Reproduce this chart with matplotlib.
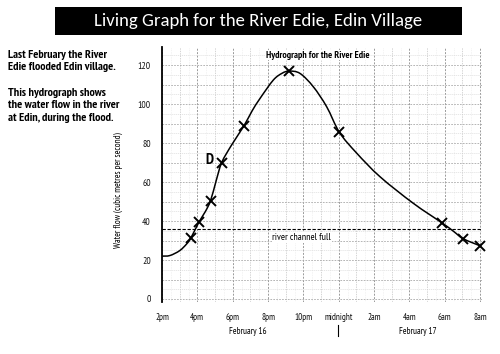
import matplotlib
matplotlib.use("Agg")
import matplotlib.pyplot as plt
from matplotlib import font_manager as fm
from matplotlib.patches import Rectangle, PathPatch
from matplotlib.path import Path
from matplotlib.lines import Line2D

# ---- data (hours after 2pm on Feb 16, water flow m3/s) ----
cross_hours = [1.64, 2.1, 2.75, 3.38, 4.63, 7.2, 10.04, 15.87, 17.05, 18.0]
cross_flow = [31.4, 39.6, 50.5, 70.0, 88.7, 116.9, 85.5, 38.9, 30.9, 27.3]

curve_hours = [0.0, 0.45, 1.0, 1.4, 1.64, 2.1, 2.45, 2.75, 3.06, 3.38, 3.94,
               4.63, 5.1, 5.55, 6.3, 6.8, 7.2, 7.81, 8.56, 9.32, 10.04, 11.0,
               12.34, 14.22, 15.87, 16.5, 17.05, 18.0]
curve_flow = [22.0, 22.3, 24.8, 28.3, 31.4, 39.6, 44.8, 50.5, 60.5, 70.0, 79.0,
              88.7, 96.5, 102.9, 112.3, 115.8, 116.9, 115.7, 108.9, 98.6, 85.5, 75.0,
              62.7, 49.1, 38.9, 34.7, 30.9, 27.3]

channel_full = 35.7
tick_hours = [0, 2, 4, 6, 8, 10, 12, 14, 16, 18]
tick_labels = ["2pm", "4pm", "6pm", "8pm", "10pm", "midnight", "2am", "4am", "6am", "8am"]
y_ticks = [0, 20, 40, 60, 80, 100, 120]

# ---- font selection ----
_WMAP = {"ultralight": 200, "light": 300, "normal": 400, "regular": 400, "book": 400,
         "medium": 500, "roman": 400, "semibold": 600, "demibold": 600, "demi": 600,
         "bold": 700, "heavy": 800, "extra bold": 800, "black": 900}


def _wt(f):
    w = f.weight
    if isinstance(w, str):
        return _WMAP.get(w.lower(), 400)
    return int(w)


def pick(families):
    for fam in families:
        ents = [f for f in fm.fontManager.ttflist
                if f.name == fam and str(f.style).lower() == "normal" and "[" not in f.fname]
        if not ents:
            continue
        reg = min(ents, key=lambda f: abs(_wt(f) - 400))
        bold = min(ents, key=lambda f: abs(_wt(f) - 700))
        if _wt(bold) >= 600:
            return reg.fname, bold.fname
    return None, None


REG, BOLD = pick(["PT Sans Narrow", "Fira Sans Condensed", "Open Sans Condensed",
                  "Roboto Condensed", "Asap Condensed", "Encode Sans Condensed",
                  "IBM Plex Sans Condensed", "Archivo Narrow", "Barlow Semi Condensed",
                  "Saira SemiCondensed"])
TREG, _ = pick(["Carlito", "Open Sans", "Noto Sans"])


def fp(kind, size=10):
    if kind == "bold":
        return fm.FontProperties(fname=BOLD, size=size) if BOLD else \
            fm.FontProperties(family="Roboto", weight="bold", size=size)
    if kind == "title":
        return fm.FontProperties(fname=TREG, size=size) if TREG else \
            fm.FontProperties(family="Open Sans", size=size)
    return fm.FontProperties(fname=REG, size=size) if REG else \
        fm.FontProperties(family="Roboto", size=size)


W, H = 500, 354
fig = plt.figure(figsize=(W / 100, H / 100), dpi=100)
fig.patch.set_facecolor("white")
renderer = fig.canvas.get_renderer()


def fit_size(text, kind, target_px):
    t = fig.text(0, 0, text, fontproperties=fp(kind, 10))
    w = t.get_window_extent(renderer).width
    t.remove()
    return 10 * target_px / w


def fx(px):
    return px / W


def fy(py):
    return 1 - py / H


# Title bar
fig.patches.append(Rectangle((fx(55), fy(35)), 407 / W, 28 / H, transform=fig.transFigure,
                             facecolor="black", edgecolor="none"))
title = "Living Graph for the River Edie, Edin Village"
fig.text(fx(258.5), fy(21), title, color="white", ha="center", va="center",
         fontproperties=fp("title", fit_size(title, "title", 329)))

# Left text
left_lines = [("Last February the River", 55), ("Edie flooded Edin village.", 67),
              ("This hydrograph shows", 93), ("the water flow in the river", 105),
              ("at Edin, during the flood.", 117.5)]
left_size = fit_size("the water flow in the river", "bold", 112)
for t, y in left_lines:
    fig.text(fx(8), fy(y), t, ha="left", va="center", fontproperties=fp("bold", left_size))

# Axes
ax = fig.add_axes([fx(162), fy(302), 320 / W, (302 - 47.3) / H])
ax.set_xlim(0, 18.11)
ax.set_ylim(-1.54, 129.1)

for s in ["top", "right", "bottom"]:
    ax.spines[s].set_visible(False)
ax.spines["left"].set_linewidth(1.3)
ax.spines["left"].set_color("black")

# graph paper grid
for h in range(0, 19):
    ax.axvline(h, color="#9a9a9a" if h % 2 == 0 else "#c4c4c4", lw=0.7 if h % 2 == 0 else 0.5,
               ls=(0, (2, 1.5)), zorder=0)
for h in [x + 0.5 for x in range(0, 18)]:
    ax.axvline(h, color="#dddddd", lw=0.4, ls=(0, (1, 2)), zorder=0)
for v in range(0, 130, 5):
    ax.axhline(v, color="#a8a8a8" if v % 10 == 0 else "#d2d2d2", lw=0.6 if v % 10 == 0 else 0.4,
               ls=(0, (2, 1.5)), zorder=0)

xtick_size = fit_size("midnight", "reg", 28.5)
ytick_size = fit_size("120", "reg", 13)
ax.set_xticks(tick_hours)
ax.set_xticklabels(tick_labels)
ax.set_yticks(y_ticks)
ax.tick_params(axis="x", length=0, pad=8)
ax.tick_params(axis="y", length=0, pad=8)
for lab in ax.get_xticklabels():
    lab.set_fontproperties(fp("reg", xtick_size))
    lab.set_color("#111111")
for lab in ax.get_yticklabels():
    lab.set_fontproperties(fp("reg", ytick_size))
    lab.set_color("#111111")

# channel full line
ax.axhline(channel_full, color="black", lw=0.8, ls=(0, (3, 1.5)), zorder=2)
ax.text(7.9, channel_full - 4.2, "river channel full", ha="center", va="center",
        zorder=3, bbox=dict(facecolor="white", edgecolor="none", pad=0.5),
        fontproperties=fp("reg", fit_size("river channel full", "reg", 58)))

# smooth curve through the read points (Catmull-Rom -> cubic Bezier)
pts = list(zip(curve_hours, curve_flow))
verts = [pts[0]]
codes = [Path.MOVETO]
n = len(pts)
for i in range(n - 1):
    p0 = pts[i - 1] if i > 0 else pts[i]
    p1 = pts[i]
    p2 = pts[i + 1]
    p3 = pts[i + 2] if i + 2 < n else pts[i + 1]
    c1 = (p1[0] + (p2[0] - p0[0]) / 6, p1[1] + (p2[1] - p0[1]) / 6)
    c2 = (p2[0] - (p3[0] - p1[0]) / 6, p2[1] - (p3[1] - p1[1]) / 6)
    verts += [c1, c2, p2]
    codes += [Path.CURVE4] * 3
ax.add_patch(PathPatch(Path(verts, codes), facecolor="none", edgecolor="black", lw=1.1,
                       zorder=4, clip_on=False))
ax.plot(cross_hours, cross_flow, ls="none", marker="x", ms=6.5, mew=1.4, color="black",
        zorder=5, clip_on=False)

ax.text(2.68, 71.3, "D", ha="center", va="center", fontproperties=fp("bold", 11))
hyd = "Hydrograph for the River Edie"
ax.text(8.8, 125, hyd, ha="center", va="center",
        bbox=dict(facecolor="white", edgecolor="none", pad=0.3),
        fontproperties=fp("bold", fit_size(hyd, "bold", 104)))

# y label
ylab = "Water flow (cubic metres per second)"
fig.text(fx(118), fy(190), ylab, rotation=90, ha="center", va="center",
         fontproperties=fp("reg", fit_size(ylab, "reg", 116)))

# date labels
date_size = fit_size("February 16", "reg", 38)
fig.text(fx(247.7), fy(331), "February 16", ha="center", va="center",
         fontproperties=fp("reg", date_size))
fig.text(fx(418.3), fy(331), "February 17", ha="center", va="center",
         fontproperties=fp("reg", date_size))
fig.lines.append(Line2D([fx(338), fx(338)], [fy(325), fy(336)], transform=fig.transFigure,
                        color="black", lw=0.8))

fig.savefig("out.png", dpi=100)
